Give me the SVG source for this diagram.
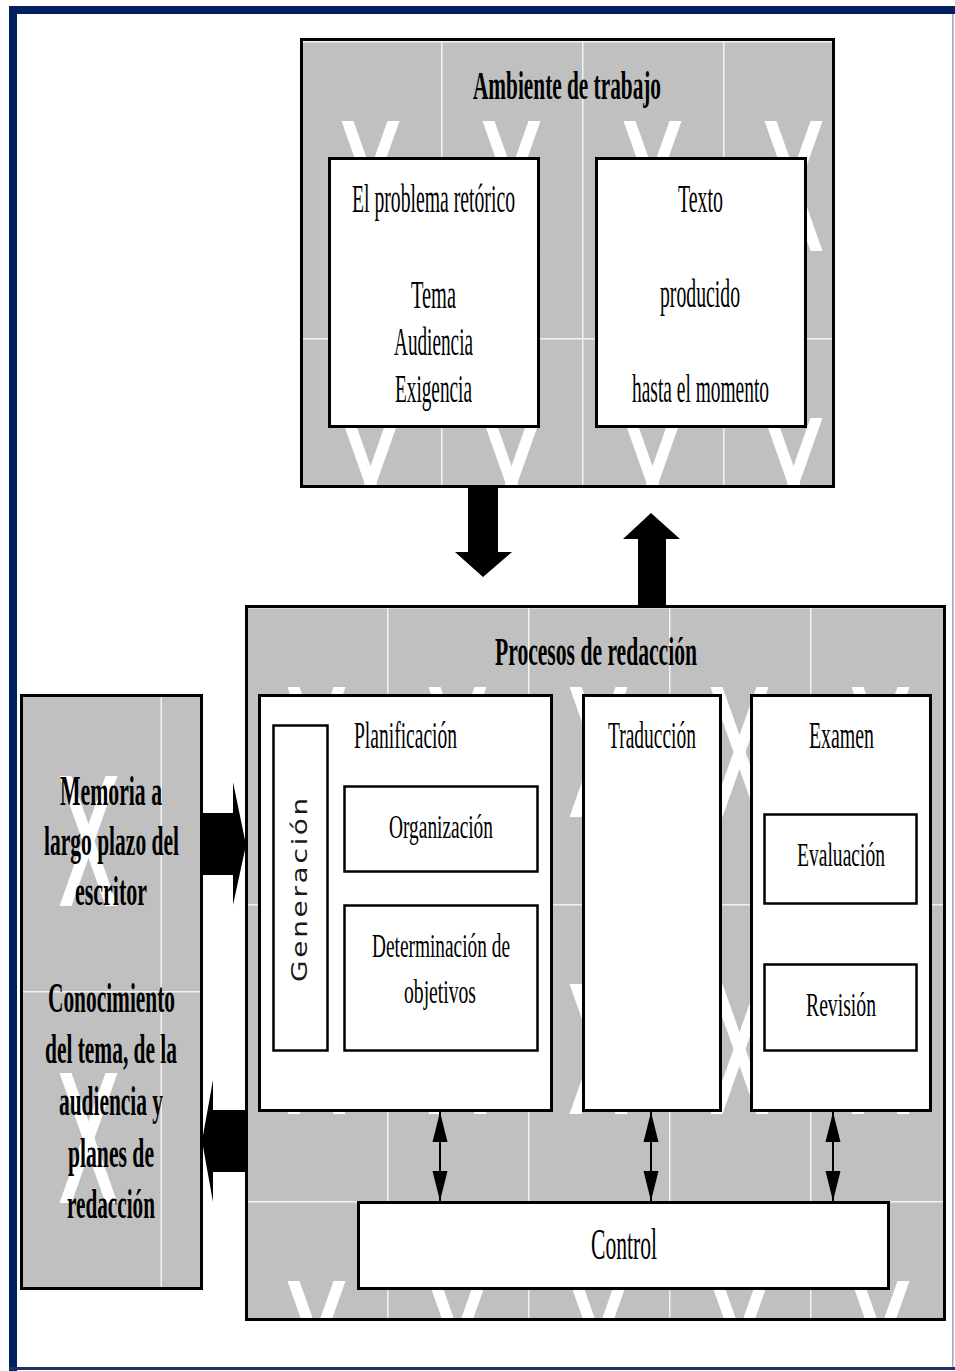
<svg xmlns="http://www.w3.org/2000/svg" width="955" height="1371" viewBox="0 0 955 1371">
<style>
.t{font-family:"Liberation Serif","Times New Roman",serif;fill:#000;}
.b{font-weight:bold;}
.box{fill:#fff;stroke:#000;stroke-width:3;}
.sub{fill:#fff;stroke:#000;stroke-width:2.5;}
.panel{stroke:#000;stroke-width:3;}
.big{fill:#000;}
.dbl{stroke:#000;stroke-width:2;fill:none;marker-start:url(#ah);marker-end:url(#ah);}
</style>
<defs>
<marker id="ah" markerUnits="userSpaceOnUse" markerWidth="30" markerHeight="16" refX="30" refY="7.5" orient="auto-start-reverse" viewBox="0 0 30 15">
<path d="M0,0 L30,7.5 L0,15 z" fill="#000"/>
</marker>
<pattern id="pTop" patternUnits="userSpaceOnUse" x="300" y="41" width="141" height="297">
<rect width="141" height="297" fill="#c0c0c0"/>
<rect width="141" height="1.5" fill="#f2f2f2"/>
<rect width="1.5" height="297" fill="#f2f2f2"/>
<polygon points="41.5,80 53.5,80 99.5,210 87.5,210" fill="#fff"/>
<polygon points="87.5,80 99.5,80 53.5,210 41.5,210" fill="#fff"/>
</pattern>
<pattern id="pBot" patternUnits="userSpaceOnUse" x="246" y="607" width="141" height="297">
<rect width="141" height="297" fill="#c0c0c0"/>
<rect width="141" height="1.5" fill="#f2f2f2"/>
<rect width="1.5" height="297" fill="#f2f2f2"/>
<polygon points="41.5,80 53.5,80 99.5,210 87.5,210" fill="#fff"/>
<polygon points="87.5,80 99.5,80 53.5,210 41.5,210" fill="#fff"/>
</pattern>
<pattern id="pLeft" patternUnits="userSpaceOnUse" x="18" y="694" width="141" height="297">
<rect width="141" height="297" fill="#c0c0c0"/>
<rect width="141" height="1.5" fill="#f2f2f2"/>
<rect x="1.5" width="1.5" height="297" fill="#f2f2f2"/>
<polygon points="41.5,82 53.5,82 99.5,212 87.5,212" fill="#fff"/>
<polygon points="87.5,82 99.5,82 53.5,212 41.5,212" fill="#fff"/>
</pattern>
</defs>

<rect width="955" height="1371" fill="#fff"/>
<g id="frame">
<rect x="9" y="6" width="946" height="8" fill="#002060"/>
<rect x="9" y="6" width="8" height="1365" fill="#002060"/>
<rect x="9" y="1367" width="946" height="3" fill="#1c3266"/>
<rect x="952" y="14" width="1.5" height="1353" fill="#9aa5c0"/>
</g>

<g id="ambiente">
<rect class="panel" x="301.5" y="39.5" width="532" height="447" fill="url(#pTop)"/>
<text class="t b" x="473" y="99" font-size="40" textLength="188" lengthAdjust="spacingAndGlyphs">Ambiente de trabajo</text>
</g>
<g id="problema">
<rect class="box" x="329.5" y="158.5" width="209" height="268"/>
<text class="t" x="352" y="212" font-size="40" textLength="163" lengthAdjust="spacingAndGlyphs">El problema retórico</text>
<text class="t" x="411" y="308" font-size="40" textLength="45" lengthAdjust="spacingAndGlyphs">Tema</text>
<text class="t" x="394" y="355" font-size="40" textLength="79" lengthAdjust="spacingAndGlyphs">Audiencia</text>
<text class="t" x="395" y="402" font-size="40" textLength="77" lengthAdjust="spacingAndGlyphs">Exigencia</text>
</g>
<g id="texto">
<rect class="box" x="596.5" y="158.5" width="209" height="268"/>
<text class="t" x="678" y="212" font-size="40" textLength="45" lengthAdjust="spacingAndGlyphs">Texto</text>
<text class="t" x="660" y="307" font-size="40" textLength="80" lengthAdjust="spacingAndGlyphs">producido</text>
<text class="t" x="632" y="402" font-size="40" textLength="137" lengthAdjust="spacingAndGlyphs">hasta el momento</text>
</g>

<g id="procesos">
<rect class="panel" x="246.5" y="606.5" width="698" height="713" fill="url(#pBot)"/>
<text class="t b" x="495" y="665" font-size="40" textLength="202" lengthAdjust="spacingAndGlyphs">Procesos de redacción</text>
</g>
<g id="planificacion">
<rect class="box" x="259.5" y="695.5" width="292" height="415"/>
<text class="t" x="354" y="748" font-size="38" textLength="103" lengthAdjust="spacingAndGlyphs">Planificación</text>
</g>
<g id="generacion">
<rect class="sub" x="273.5" y="725.5" width="54" height="325"/>
<text font-family="'DejaVu Sans',Verdana,sans-serif" font-size="21" letter-spacing="2" fill="#1a1a1a" transform="translate(307,982) rotate(-90)" x="0" y="0" textLength="187" lengthAdjust="spacingAndGlyphs">Generación</text>
</g>
<g id="organizacion">
<rect class="sub" x="344.5" y="786.5" width="193" height="85"/>
<text class="t" x="389" y="838" font-size="34" textLength="104" lengthAdjust="spacingAndGlyphs">Organización</text>
</g>
<g id="determinacion">
<rect class="sub" x="344.5" y="905.5" width="193" height="145"/>
<text class="t" x="372" y="957" font-size="34" textLength="138" lengthAdjust="spacingAndGlyphs">Determinación de</text>
<text class="t" x="404" y="1003" font-size="34" textLength="72" lengthAdjust="spacingAndGlyphs">objetivos</text>
</g>
<g id="traduccion">
<rect class="box" x="583.5" y="695.5" width="137" height="415"/>
<text class="t" x="608" y="748" font-size="38" textLength="88" lengthAdjust="spacingAndGlyphs">Traducción</text>
</g>
<g id="examen">
<rect class="box" x="751.5" y="695.5" width="179" height="415"/>
<text class="t" x="809" y="748" font-size="38" textLength="65" lengthAdjust="spacingAndGlyphs">Examen</text>
</g>
<g id="evaluacion">
<rect class="sub" x="764.5" y="814.5" width="152" height="89"/>
<text class="t" x="797" y="866" font-size="34" textLength="88" lengthAdjust="spacingAndGlyphs">Evaluación</text>
</g>
<g id="revision">
<rect class="sub" x="764.5" y="964.5" width="152" height="86"/>
<text class="t" x="806" y="1016" font-size="34" textLength="70" lengthAdjust="spacingAndGlyphs">Revisión</text>
</g>
<g id="control">
<rect class="box" x="358.5" y="1202.5" width="530" height="86"/>
<text class="t" x="591" y="1259" font-size="44" textLength="66" lengthAdjust="spacingAndGlyphs">Control</text>
</g>

<g id="memoria">
<rect class="panel" x="21.5" y="695.5" width="180" height="593" fill="url(#pLeft)"/>
<text class="t b" x="60" y="805" font-size="42" textLength="102" lengthAdjust="spacingAndGlyphs">Memoria a</text>
<text class="t b" x="44" y="855" font-size="42" textLength="135" lengthAdjust="spacingAndGlyphs">largo plazo del</text>
<text class="t b" x="75" y="905" font-size="42" textLength="72" lengthAdjust="spacingAndGlyphs">escritor</text>
<text class="t b" x="48" y="1012" font-size="42" textLength="127" lengthAdjust="spacingAndGlyphs">Conocimiento</text>
<text class="t b" x="45" y="1063" font-size="42" textLength="132" lengthAdjust="spacingAndGlyphs">del tema, de la</text>
<text class="t b" x="59" y="1115" font-size="42" textLength="104" lengthAdjust="spacingAndGlyphs">audiencia y</text>
<text class="t b" x="68" y="1167" font-size="42" textLength="86" lengthAdjust="spacingAndGlyphs">planes de</text>
<text class="t b" x="67" y="1218" font-size="42" textLength="88" lengthAdjust="spacingAndGlyphs">redacción</text>
</g>

<g id="connectors">
<polygon class="big" points="468,487 498,487 498,552 512,552 483,577 455,552 468,552"/>
<polygon class="big" points="651,513 680,539 666,539 666,605 638,605 638,539 623,539"/>
<polygon class="big" points="202,813 233,813 233,782 246,845 233,905 233,875 202,875"/>
<polygon class="big" points="245,1110 213,1110 213,1080 202,1141 213,1202 213,1172 245,1172"/>
<line class="dbl" x1="440" y1="1112" x2="440" y2="1201"/>
<line class="dbl" x1="651" y1="1112" x2="651" y2="1201"/>
<line class="dbl" x1="833" y1="1112" x2="833" y2="1201"/>
</g>
</svg>
